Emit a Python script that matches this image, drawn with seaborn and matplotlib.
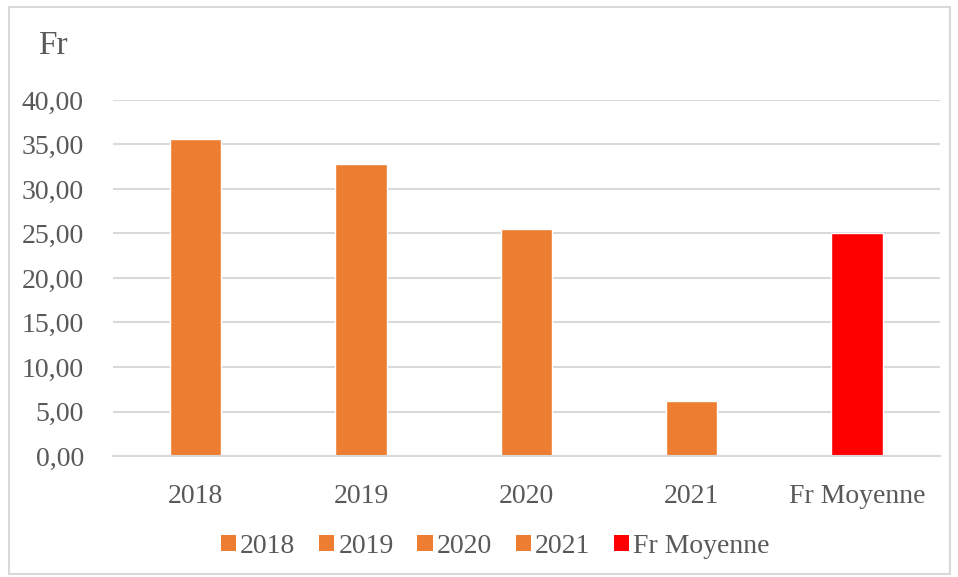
import matplotlib
matplotlib.use("Agg")
import matplotlib.pyplot as plt
from matplotlib.patches import Patch, Rectangle
import seaborn as sns
import pandas as pd

# values
categories = ["2018", "2019", "2020", "2021", "Fr Moyenne"]
values = [35.6, 32.8, 25.5, 6.2, 25.05]
colors = ["#ED7D31", "#ED7D31", "#ED7D31", "#ED7D31", "#FF0000"]
yticks = [0, 5, 10, 15, 20, 25, 30, 35, 40]

sns.set_style("white")
plt.rcParams['font.family'] = ['Liberation Serif', 'DejaVu Serif']
text_col = "#595959"
grid_col = "#D9D9D9"

df = pd.DataFrame({"cat": categories, "val": values})

fig = plt.figure(figsize=(9.58, 5.77), dpi=100)
ax = fig.add_axes([0.118, 0.2097, 0.863, 0.617])

sns.barplot(data=df, x="cat", y="val", hue="cat", palette=colors,
            width=0.31, legend=False, ax=ax, saturation=1)

ax.set_ylim(0, 40)
ax.set_yticks(yticks)
ax.set_yticklabels([f"{v:.2f}".replace(".", ",") for v in yticks])
ax.yaxis.grid(True, color=grid_col, linewidth=1.5)
ax.set_axisbelow(True)
for s in ["top", "right", "left"]:
    ax.spines[s].set_visible(False)
ax.spines["bottom"].set_color(grid_col)
ax.spines["bottom"].set_linewidth(1.5)
ax.tick_params(axis="both", length=0, labelsize=20, colors=text_col)
ax.tick_params(axis="x", pad=20)
ax.tick_params(axis="y", pad=21)
ax.set_xlabel("")
ax.set_ylabel("")

fig.text(0.040, 0.92, "Fr", fontsize=24, color=text_col, va="center")

handles = [Patch(facecolor=c, edgecolor="none") for c in colors]
fig.legend(handles, categories, loc="center", bbox_to_anchor=(0.517, 0.053),
           ncol=5, frameon=False, labelcolor=text_col,
           prop={"family": "Liberation Serif", "size": 20},
           handlelength=0.55, handleheight=0.55, handletextpad=0.15,
           columnspacing=0.85)

fig.patches.append(Rectangle((0.009, 0.005), 0.983, 0.983, transform=fig.transFigure,
                             fill=False, edgecolor=grid_col, linewidth=1.5))

fig.savefig("out.png", dpi=100)
